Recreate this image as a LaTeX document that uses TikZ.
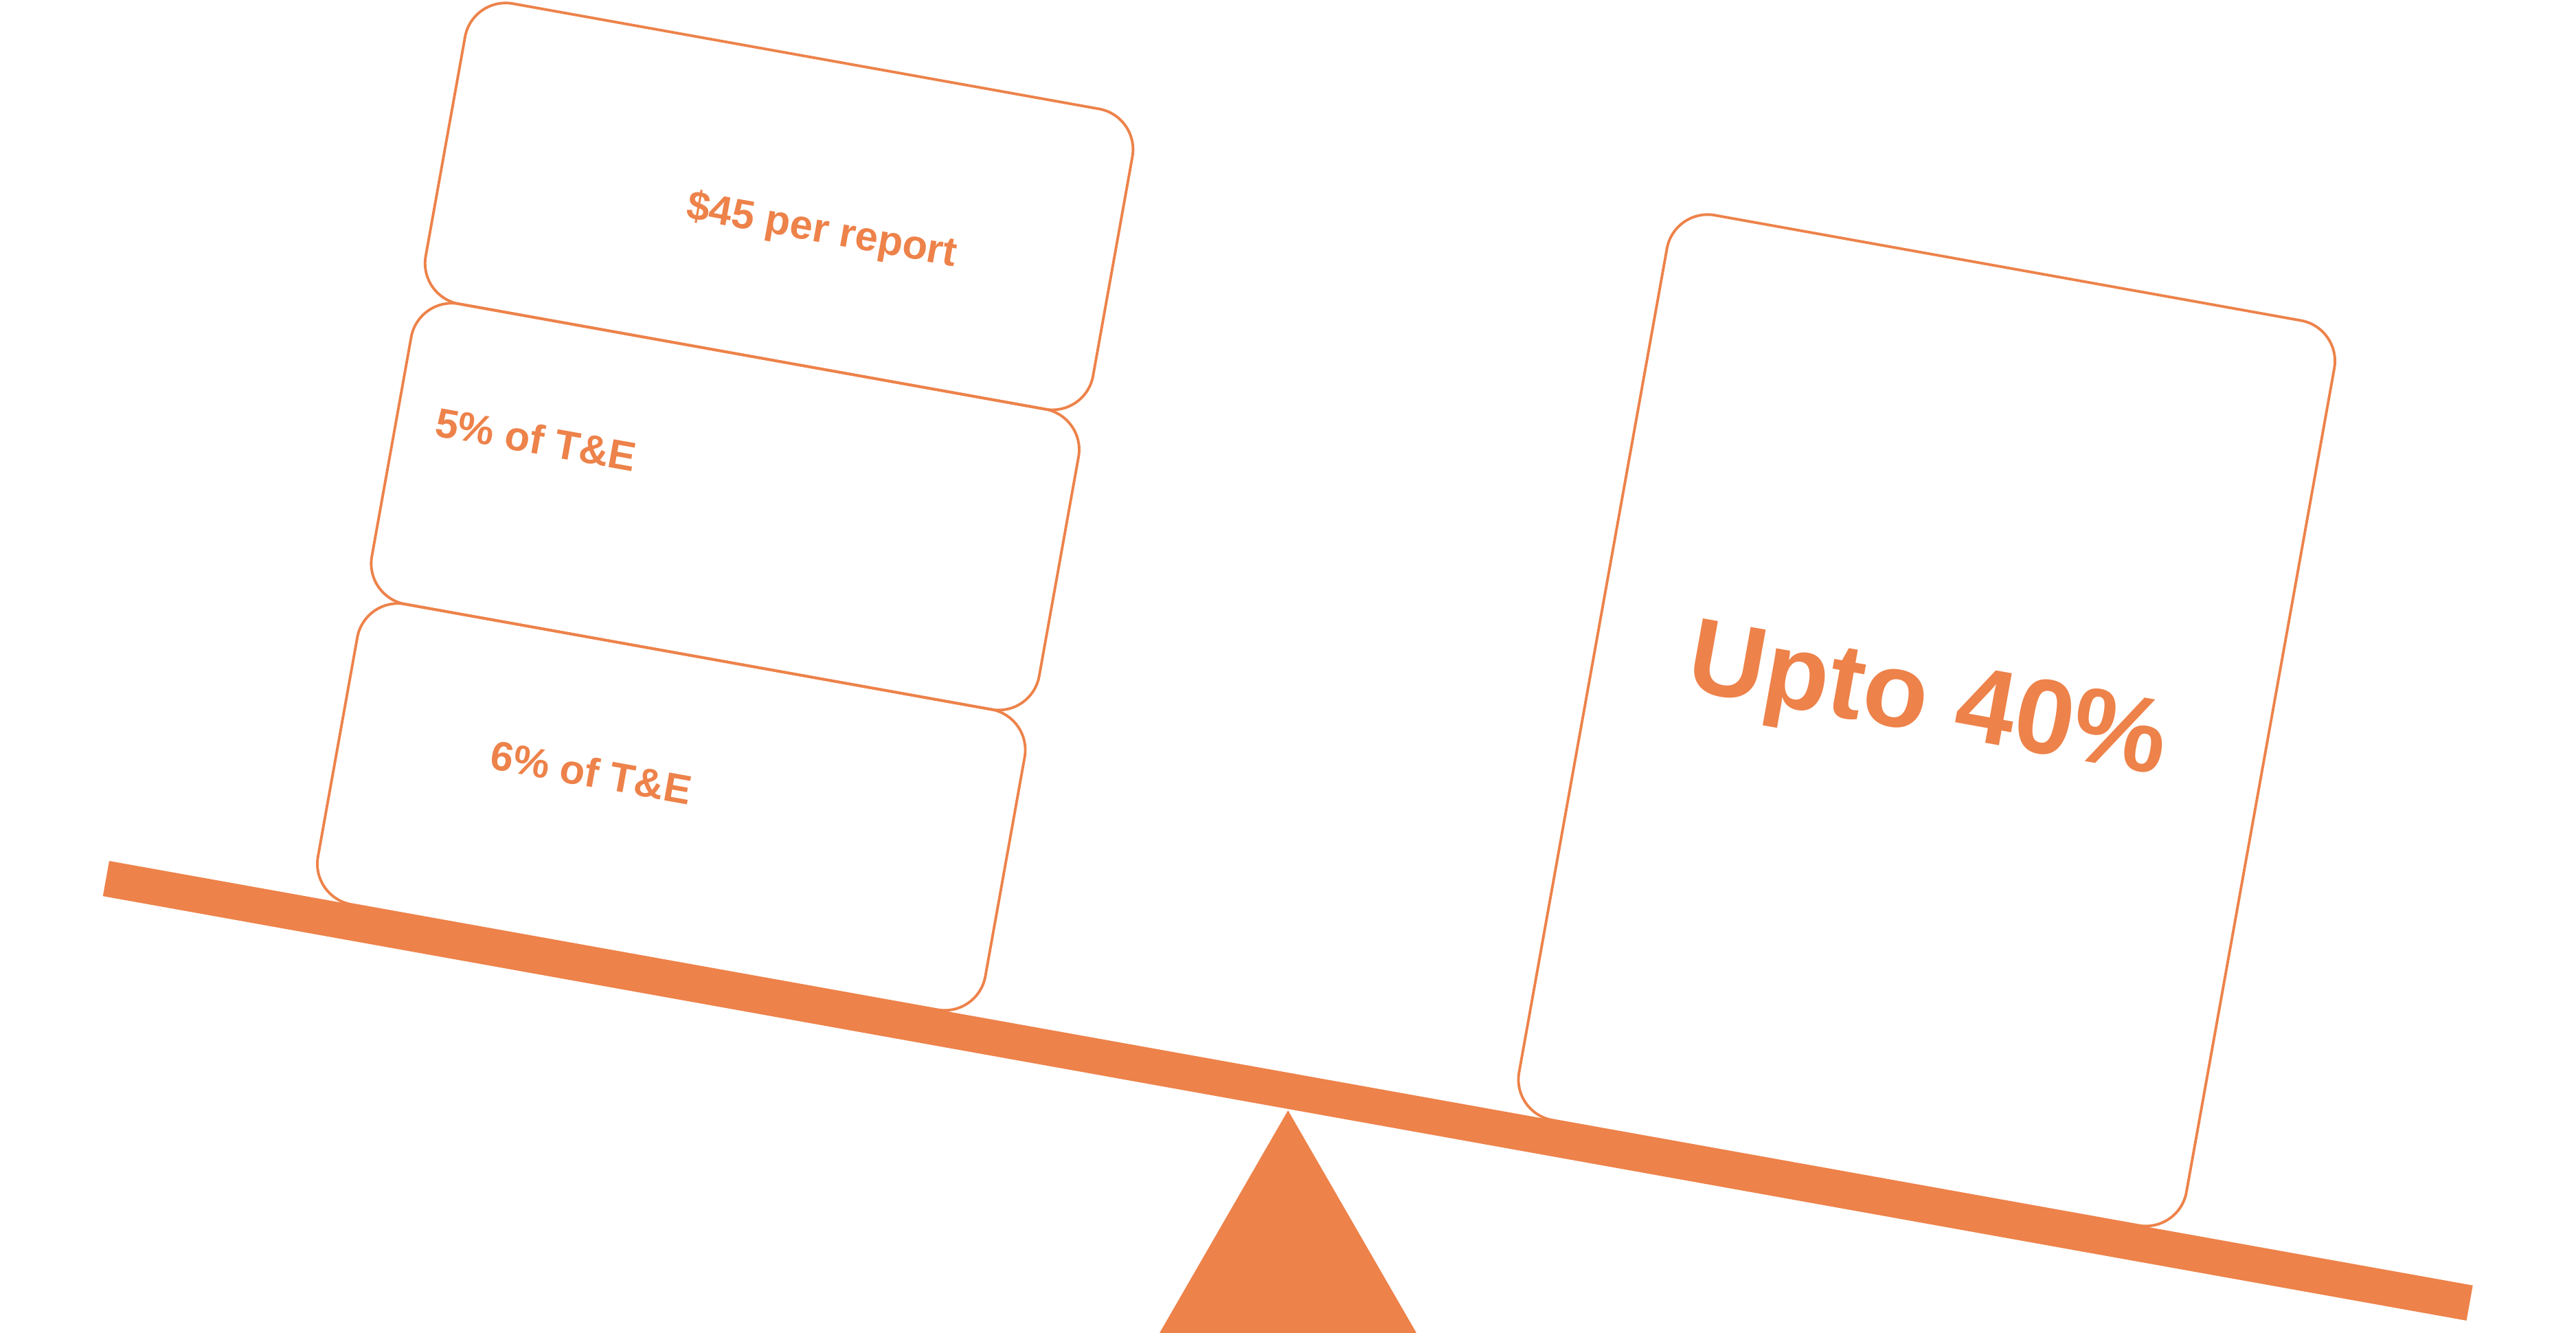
\documentclass[tikz,border=0pt]{standalone}
\usepackage{fontspec}
\setmainfont{Liberation Sans}
\usetikzlibrary{positioning}
\definecolor{costorange}{RGB}{237,130,74}

\begin{document}
\begin{tikzpicture}[
    costbox/.style={rectangle, draw=costorange, line width=1.1pt, rounded corners=0.6cm, minimum width=9.87cm, minimum height=4.44cm, inner sep=0pt, outer sep=0pt},
    bigbox/.style={costbox, minimum height=13.38cm},
    costlabel/.style={text=costorange, font=\bfseries\fontsize{17}{20}\selectfont, inner sep=0pt},
    savelabel/.style={text=costorange, font=\bfseries\fontsize{44}{52}\selectfont, inner sep=0pt},
    beam/.style={draw=costorange, line width=0.52cm}
]
\useasboundingbox (0,0) rectangle (37.5,19.4);

% Fulcrum
\fill[costorange] (16.88,0) -- (18.75,3.24) -- (20.62,0) -- cycle;

% Everything that rests on the tilted beam
\begin{scope}[shift={(1.59,6.87)}, rotate=-10.18, transform shape]

% Beam
\coordinate (beamL) at (0,-0.26);
\coordinate (beamR) at (34.96,-0.26);
\draw[beam] (beamL) -- (beamR);

% Left pan: stacked cost boxes
\node[costbox] (box6) at (7.915,2.22) {};
\node[costbox, above=0cm of box6] (box5) {};
\node[costbox, above=0cm of box5] (box45) {};

\node[costlabel] (lbl6) at (6.68,2.51) {6\% of T\&E};
\node[costlabel] (lbl5) at (5.03,7.14) {5\% of T\&E};
\node[costlabel] (lbl45) at (8.59,10.85) {\$45 per report};

% Right pan: savings box
\node[bigbox] (boxsave) at (25.68,6.69) {};
\node[savelabel] (lblsave) at (25.65,6.89) {Upto 40\%};

\end{scope}

\end{tikzpicture}
\end{document}
